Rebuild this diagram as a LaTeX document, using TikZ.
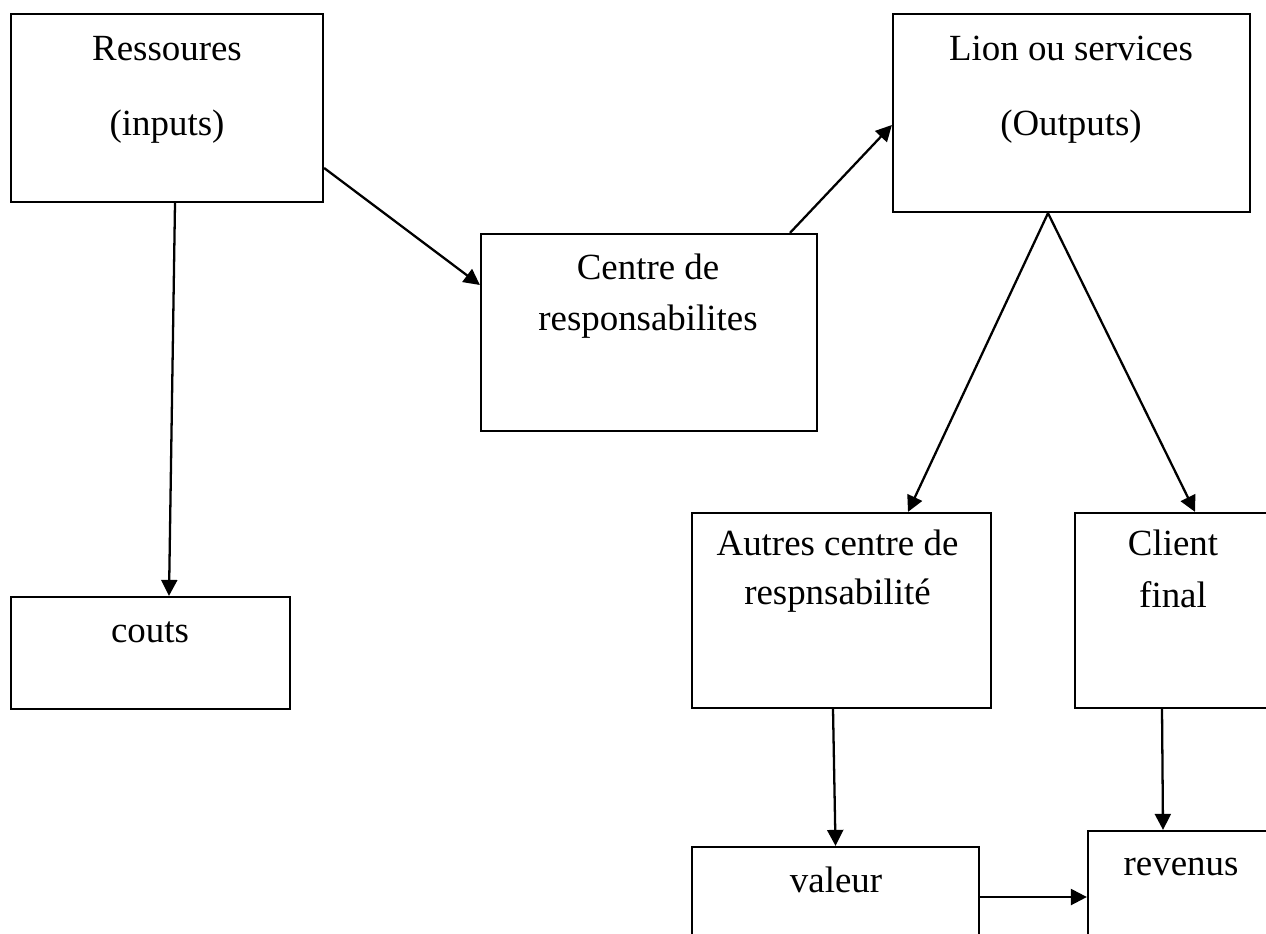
\documentclass[tikz,border=0pt]{standalone}
\usepackage{fontspec}
\setmainfont{Liberation Serif}
\usetikzlibrary{arrows.meta,positioning,calc}

\begin{document}
\begin{tikzpicture}[x=0.02cm,y=-0.02cm,
	box/.style={draw,line width=1.3pt,inner sep=0pt},
	txt/.style={anchor=base,inner sep=0pt,font=\fontsize{21}{25}\selectfont},
	arr/.style={line width=1.3pt,-{Triangle[length=0.32cm,width=0.32cm]}}]
	\useasboundingbox (0,0) rectangle (1266,933);
	
	% boxes
	\node[box,minimum width=6.24cm,minimum height=3.76cm] (res) at (167,108) {};
	\node[box,minimum width=7.14cm,minimum height=3.96cm] (lion) at (1071.5,113) {};
	\node[box,minimum width=6.72cm,minimum height=3.94cm] (centre) at (649,332.5) {};
	\node[box,minimum width=5.58cm,minimum height=2.24cm] (couts) at (150.5,653) {};
	\node[box,minimum width=5.98cm,minimum height=3.9cm] (autres) at (841.5,610.5) {};
	\node[box,minimum width=3.92cm,minimum height=3.9cm] (client) at (1173,610.5) {};
	\node[box,minimum width=5.74cm,minimum height=2.56cm] (valeur) at (835.5,911) {};
	\node[box,minimum width=3.72cm,minimum height=2.64cm] (revenus) at (1181,897) {};
	
	% labels
	\node[txt] (res-a) at (167,60) {Ressoures};
	\node[txt] (res-b) at (167,135) {(inputs)};
	\node[txt] (lion-a) at (1071,60) {Lion ou services};
	\node[txt] (lion-b) at (1071,135) {(Outputs)};
	\node[txt] (centre-a) at (648,279) {Centre de};
	\node[txt] (centre-b) at (648,330) {responsabilites};
	\node[txt] (couts-a) at (150,642) {couts};
	\node[txt] (autres-a) at (837.5,555) {Autres centre de};
	\node[txt] (autres-b) at (837.5,604) {respnsabilité};
	\node[txt] (client-a) at (1173,555) {Client};
	\node[txt] (client-b) at (1173,607) {final};
	\node[txt] (valeur-a) at (836,892) {valeur};
	\node[txt] (revenus-a) at (1181,875) {revenus};
	
	% arrows
	\coordinate (split) at ($(lion.south)+(-23.5,0)$);
	\draw[arr] ($(res.south)+(8,0)$) -- ($(couts.north)+(18.5,0)$);
	\draw[arr] ($(res.east)+(0,60)$) -- ($(centre.west)+(0,-47.5)$);
	\draw[arr] ($(centre.north)+(141,0)$) -- ($(lion.west)+(0,12)$);
	\draw[arr] (split) -- ($(autres.north)+(66.5,0)$);
	\draw[arr] (split) -- ($(client.north)+(22,0)$);
	\draw[arr] ($(autres.south)+(-8.5,0)$) -- (valeur.north);
	\draw[arr] ($(client.south)+(-11,0)$) -- ($(revenus.north)+(-18,0)$);
	\draw[arr] (valeur.east |- revenus.west) -- (revenus.west);
\end{tikzpicture}
\end{document}
